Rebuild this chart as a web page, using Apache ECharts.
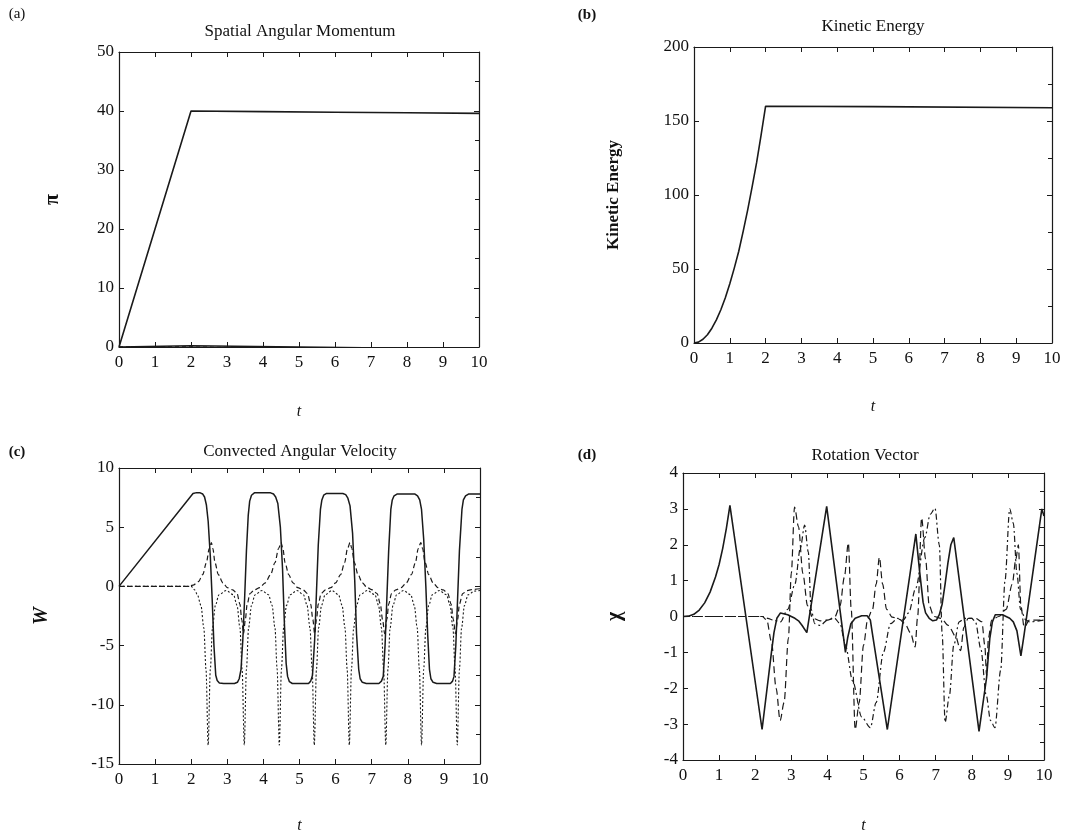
<!DOCTYPE html>
<html>
<head>
<meta charset="utf-8">
<script src="https://cdn.jsdelivr.net/npm/echarts@6/dist/echarts.min.js"></script>
<style>
  html, body { margin: 0; padding: 0; background: #fff; }
  #main { width: 1089px; height: 835px; }
</style>
</head>
<body>
<div id="main"></div>
<script>
// (a) spatial angular momentum
var piMain = [[0, 0], [2, 40], [4, 39.9], [6, 39.8], [8, 39.7], [10, 39.6]];
var piLow1 = [[0, 0], [2, 0.2], [5, 0], [8, -0.2], [10, -0.4]];
var piLow2 = [[0, 0], [2, 0], [4, -0.2], [7, -0.3], [10, -0.6]];

// (b) kinetic energy
var energy = [[0, 0], [0.125, 0.6], [0.25, 2.5], [0.375, 5.6], [0.5, 10], [0.625, 15.6], [0.75, 22.5],
  [0.875, 30.6], [1, 40], [1.125, 50.6], [1.25, 62], [1.375, 75.6], [1.5, 90], [1.625, 105.6],
  [1.75, 122], [1.875, 140.6], [2, 160], [5, 159.7], [10, 159]];

// (c) convected angular velocity
var wSolid = [[0, 0], [2.05, 7.85], [2.15, 7.92], [2.25, 7.9], [2.32, 7.8], [2.37, 7.55], [2.42, 6.9],
  [2.47, 5.5], [2.53, 2.5], [2.58, -1], [2.63, -5], [2.68, -7.5], [2.72, -7.95], [2.78, -8.15],
  [2.9, -8.2], [3.2, -8.2], [3.28, -8.1], [3.33, -7.8], [3.38, -7.0], [3.43, -4.5], [3.48, -1],
  [3.53, 3], [3.58, 6], [3.62, 7.2], [3.67, 7.7], [3.75, 7.9], [4.2, 7.9], [4.28, 7.8], [4.34, 7.55],
  [4.4, 7.0], [4.47, 5], [4.53, 1.5], [4.58, -3], [4.63, -6.5], [4.67, -7.6], [4.72, -8.05],
  [4.8, -8.2], [5.25, -8.2], [5.31, -8.0], [5.36, -7.5], [5.42, -4.5], [5.47, -0.5], [5.52, 3.5],
  [5.58, 6.5], [5.62, 7.3], [5.67, 7.7], [5.75, 7.85], [6.2, 7.85], [6.28, 7.75], [6.34, 7.45],
  [6.4, 6.8], [6.47, 4.5], [6.53, 0.5], [6.58, -4], [6.64, -7], [6.68, -7.8], [6.74, -8.1],
  [6.85, -8.2], [7.2, -8.2], [7.27, -8.0], [7.32, -7.6], [7.37, -5], [7.42, -1], [7.47, 3],
  [7.53, 6.5], [7.57, 7.3], [7.62, 7.65], [7.7, 7.8], [8.2, 7.8], [8.27, 7.65], [8.33, 7.3],
  [8.38, 6.5], [8.44, 4], [8.5, 0], [8.55, -4], [8.6, -7], [8.64, -7.8], [8.7, -8.1], [8.8, -8.2],
  [9.18, -8.2], [9.24, -8.0], [9.28, -7.6], [9.33, -5], [9.38, -1], [9.43, 3], [9.5, 6.5],
  [9.54, 7.3], [9.6, 7.65], [9.68, 7.8], [10, 7.8]];
var wDashed = [[0, 0], [1.9, 0], [2.05, 0.1], [2.2, 0.4], [2.32, 1.0], [2.42, 2.0], [2.5, 3.2],
  [2.56, 3.7], [2.6, 3.2], [2.66, 2.0], [2.75, 1.0], [2.88, 0.3], [3.0, -0.1], [3.15, -0.3],
  [3.27, -0.6], [3.35, -1.5], [3.4, -2.8], [3.45, -4.0], [3.5, -2.8], [3.55, -1.5], [3.63, -0.6],
  [3.75, -0.3], [3.9, -0.1], [4.05, 0.3], [4.2, 1.0], [4.32, 2.0], [4.42, 3.2], [4.49, 3.7],
  [4.54, 3.2], [4.6, 2.0], [4.7, 1.0], [4.82, 0.3], [4.95, -0.1], [5.1, -0.3], [5.22, -0.6],
  [5.31, -1.5], [5.37, -2.8], [5.42, -4.0], [5.47, -2.8], [5.52, -1.5], [5.6, -0.6], [5.72, -0.3],
  [5.87, -0.1], [6.0, 0.3], [6.14, 1.0], [6.25, 2.0], [6.33, 3.2], [6.4, 3.7], [6.45, 3.2],
  [6.52, 2.0], [6.62, 1.0], [6.74, 0.3], [6.87, -0.1], [7.02, -0.3], [7.15, -0.6], [7.24, -1.5],
  [7.3, -2.8], [7.36, -4.0], [7.42, -2.8], [7.47, -1.5], [7.55, -0.6], [7.67, -0.3], [7.82, -0.1],
  [7.96, 0.3], [8.1, 1.0], [8.21, 2.0], [8.29, 3.2], [8.36, 3.7], [8.41, 3.2], [8.48, 2.0],
  [8.58, 1.0], [8.7, 0.3], [8.83, -0.1], [8.98, -0.3], [9.11, -0.6], [9.2, -1.5], [9.26, -2.8],
  [9.32, -4.0], [9.38, -2.8], [9.43, -1.5], [9.52, -0.6], [9.64, -0.35], [9.82, -0.25], [10, -0.2]];
var wDotted = [[0, 0], [2.0, 0], [2.1, -0.3], [2.17, -0.7], [2.27, -1.6], [2.35, -3.5], [2.41, -7],
  [2.47, -13.4], [2.53, -7], [2.59, -3.5], [2.67, -1.6], [2.77, -0.7], [2.97, -0.35],
  [3.17, -0.7], [3.27, -1.6], [3.35, -3.5], [3.41, -7], [3.47, -13.4], [3.53, -7], [3.59, -3.5],
  [3.67, -1.6], [3.77, -0.7], [3.96, -0.35], [4.14, -0.7], [4.24, -1.6], [4.32, -3.5], [4.38, -7],
  [4.44, -13.4], [4.5, -7], [4.56, -3.5], [4.64, -1.6], [4.74, -0.7], [4.93, -0.35], [5.11, -0.7],
  [5.21, -1.6], [5.29, -3.5], [5.35, -7], [5.41, -13.4], [5.47, -7], [5.53, -3.5], [5.61, -1.6],
  [5.71, -0.7], [5.9, -0.35], [6.08, -0.7], [6.18, -1.6], [6.26, -3.5], [6.32, -7], [6.38, -13.4],
  [6.44, -7], [6.5, -3.5], [6.58, -1.6], [6.68, -0.7], [6.88, -0.35], [7.09, -0.7], [7.19, -1.6],
  [7.27, -3.5], [7.33, -7], [7.39, -13.4], [7.45, -7], [7.51, -3.5], [7.59, -1.6], [7.69, -0.7],
  [7.88, -0.35], [8.08, -0.7], [8.18, -1.6], [8.26, -3.5], [8.32, -7], [8.38, -13.4], [8.44, -7],
  [8.5, -3.5], [8.58, -1.6], [8.68, -0.7], [8.87, -0.35], [9.07, -0.7], [9.17, -1.6], [9.25, -3.5],
  [9.31, -7], [9.37, -13.4], [9.43, -7], [9.49, -3.5], [9.57, -1.6], [9.67, -0.7], [9.85, -0.4],
  [10, -0.35]];

// (d) rotation vector
var chiSolid = [[0, 0], [0.15, 0.01], [0.3, 0.06], [0.45, 0.18], [0.6, 0.38], [0.75, 0.68], [0.9, 1.1],
  [1.0, 1.45], [1.1, 1.9], [1.2, 2.45], [1.3, 3.1], [2.19, -3.15], [2.45, -1.0], [2.52, -0.45],
  [2.6, -0.05], [2.7, 0.1], [2.9, 0.05], [3.1, -0.05], [3.2, -0.12], [3.3, -0.25], [3.43, -0.45],
  [3.98, 3.07], [4.5, -1.0], [4.56, -0.6], [4.65, -0.2], [4.77, -0.05], [4.95, 0.02], [5.1, 0.02],
  [5.19, -0.1], [5.25, -0.5], [5.66, -3.15], [6.45, 2.3], [6.55, 1.3], [6.65, 0.4], [6.72, 0.1],
  [6.82, -0.05], [6.92, -0.12], [7.02, -0.1], [7.1, 0.05], [7.18, 0.35], [7.26, 0.9], [7.34, 1.5],
  [7.42, 2.0], [7.5, 2.2], [8.2, -3.2], [8.41, -1.7], [8.5, -0.6], [8.57, -0.15], [8.65, 0.05],
  [8.85, 0.05], [9.05, -0.05], [9.15, -0.15], [9.25, -0.4], [9.36, -1.1], [9.45, -0.5],
  [9.94, 3.0], [10, 2.8]];
var chiDashed = [[0, 0], [2.2, 0], [2.32, -0.1], [2.45, -0.7], [2.58, -2.0], [2.69, -2.9], [2.8, -2.4],
  [2.92, -0.6], [3.0, 1.2], [3.09, 3.05], [3.2, 2.5], [3.32, 1.2], [3.45, 0.3], [3.6, -0.05],
  [3.8, -0.12], [4.0, -0.1], [4.2, -0.02], [4.35, 0.3], [4.47, 1.1], [4.58, 2.05], [4.66, 0.2],
  [4.77, -3.15], [4.88, -2.4], [5.0, -0.8], [5.12, -0.05], [5.25, 0.2], [5.35, 0.9], [5.44, 1.65],
  [5.53, 0.9], [5.64, 0.2], [5.8, -0.02], [6.0, -0.08], [6.15, -0.2], [6.3, -0.45], [6.43, -0.85],
  [6.5, 0.0], [6.61, 2.75], [6.72, 1.6], [6.82, 0.3], [6.95, 0.0], [7.15, -0.05], [7.35, -0.25],
  [7.55, -0.55], [7.69, -0.95], [7.78, -0.3], [7.9, -0.05], [8.1, -0.05], [8.28, -0.15],
  [8.36, -0.8], [8.41, -1.65], [8.46, -0.6], [8.55, -0.1], [8.75, 0.0], [8.95, 0.2], [9.12, 0.9],
  [9.22, 1.6], [9.29, 2.0], [9.36, 0.3], [9.45, -0.3], [9.6, -0.1], [10, -0.1]];
var chiDashDot = [[0, 0], [2.2, 0], [2.35, -0.05], [2.5, -0.1], [2.7, -0.15], [2.9, 0.2], [3.1, 0.9],
  [3.25, 1.9], [3.37, 2.55], [3.47, 1.8], [3.55, 0.2], [3.65, -0.2], [3.8, -0.25], [4.0, -0.1],
  [4.2, -0.05], [4.35, -0.2], [4.5, -0.8], [4.7, -1.8], [4.95, -2.8], [5.19, -3.1], [5.35, -2.4],
  [5.55, -1.0], [5.75, -0.2], [5.95, -0.05], [6.1, -0.1], [6.25, 0.1], [6.45, 0.8], [6.7, 2.2],
  [6.85, 2.85], [6.98, 3.02], [7.1, 2.0], [7.18, -0.5], [7.26, -2.95], [7.38, -2.2], [7.5, -0.8],
  [7.65, -0.15], [7.8, -0.05], [8.0, -0.05], [8.1, -0.15], [8.25, -0.9], [8.4, -2.2], [8.52, -2.9],
  [8.64, -3.1], [8.8, -1.5], [8.92, 1.0], [9.05, 3.0], [9.15, 2.6], [9.25, 1.2], [9.35, 0.2],
  [9.5, -0.1], [9.6, -0.15], [10, -0.1]];

var FONT = 'Liberation Serif';
var INK = '#1a1a1a';

var panels = [
  { grid: { left: 119, top: 52, width: 360, height: 295 }, ymin: 0, ymax: 50, yint: 10, yname: 'π', ygap: 56, xgap: 57 },
  { grid: { left: 694, top: 47, width: 358, height: 296 }, ymin: 0, ymax: 200, yint: 50, yname: 'Kinetic Energy', ygap: 72, xgap: 56 },
  { grid: { left: 119, top: 468, width: 361, height: 296 }, ymin: -15, ymax: 10, yint: 5, yname: 'W', ygap: 67, xgap: 54 },
  { grid: { left: 683, top: 473, width: 361, height: 297 }, ymin: -4, ymax: 4, yint: 1, yname: 'χ', ygap: 58, xgap: 58 }
];

var grids = [], xAxes = [], yAxes = [];
panels.forEach(function (p, i) {
  grids.push(p.grid);
  var line = { show: true, onZero: false, lineStyle: { color: INK, width: 1.2 } };
  var tick = { show: true, inside: true, length: 5, lineStyle: { color: INK, width: 1 } };
  var label = { color: '#111', fontFamily: FONT, fontSize: 17, margin: 7 };
  xAxes.push({
    type: 'value', gridIndex: i, min: 0, max: 10, interval: 1, position: 'bottom',
    axisLine: line, axisTick: tick, axisLabel: label, splitLine: { show: false },
    name: 't', nameLocation: 'middle', nameGap: p.xgap,
    nameTextStyle: { fontFamily: FONT, fontStyle: 'italic', fontSize: 16, color: '#111' }
  });
  xAxes.push({
    type: 'value', gridIndex: i, min: 0, max: 10, interval: 1, position: 'top',
    axisLine: line, axisTick: tick, axisLabel: { show: false }, splitLine: { show: false }
  });
  yAxes.push({
    type: 'value', gridIndex: i, min: p.ymin, max: p.ymax, interval: p.yint, position: 'left',
    axisLine: line, axisTick: tick, axisLabel: Object.assign({}, label, { margin: 5 }),
    splitLine: { show: false },
    name: p.yname, nameLocation: 'middle', nameGap: p.ygap, nameRotate: 90,
    nameTextStyle: { fontFamily: FONT, fontSize: i === 1 ? 17 : 20, fontWeight: 'bold', color: '#111',
      fontStyle: i === 2 ? 'italic' : 'normal' }
  });
  yAxes.push({
    type: 'value', gridIndex: i, min: p.ymin, max: p.ymax, interval: p.yint, position: 'right',
    axisLine: line, axisTick: tick, axisLabel: { show: false }, splitLine: { show: false },
    minorTick: { show: true, splitNumber: 2, length: 4, lineStyle: { color: INK } }
  });
});

function curve(data, panel, type, smooth, width) {
  return {
    type: 'line', data: data, xAxisIndex: panel * 2, yAxisIndex: panel * 2,
    showSymbol: false, smooth: smooth, smoothMonotone: 'x', animation: false,
    lineStyle: { color: INK, width: width || 1.4, type: type },
    emphasis: { disabled: true }
  };
}

var series = [
  curve(piMain, 0, 'solid', false, 1.6),
  curve(piLow1, 0, 'solid', false, 1.6),
  curve(piLow2, 0, [4, 3], false, 1.4),
  curve(energy, 1, 'solid', false, 1.6),
  curve(wSolid, 2, 'solid', false, 1.5),
  curve(wDashed, 2, [5, 3], 0.3, 1.2),
  curve(wDotted, 2, [2, 2], 0.3, 1.1),
  curve(chiSolid, 3, 'solid', false, 1.6),
  curve(chiDashed, 3, [7, 4], 0.3, 1.2),
  curve(chiDashDot, 3, [6, 3, 2, 3], 0.3, 1.2)
];

function text(x, y, str, size, weight) {
  return {
    type: 'text', x: x, y: y,
    style: { text: str, fill: '#111', font: (weight || 'normal') + ' ' + size + 'px "' + FONT + '"',
      textAlign: 'center', textVerticalAlign: 'middle' }
  };
}

var graphics = [
  text(300, 32, 'Spatial Angular Momentum', 17),
  text(873, 27, 'Kinetic Energy', 17),
  text(300, 452, 'Convected Angular Velocity', 17),
  text(865, 456, 'Rotation Vector', 17),
  text(17, 14, '(a)', 15),
  text(587, 15, '(b)', 15, 'bold'),
  text(17, 452, '(c)', 15, 'bold'),
  text(587, 455, '(d)', 15, 'bold')
];

var chart = echarts.init(document.getElementById('main'), null, { renderer: 'canvas' });
chart.setOption({
  backgroundColor: '#fff',
  animation: false,
  grid: grids,
  xAxis: xAxes,
  yAxis: yAxes,
  series: series,
  graphic: graphics
});
</script>
</body>
</html>
